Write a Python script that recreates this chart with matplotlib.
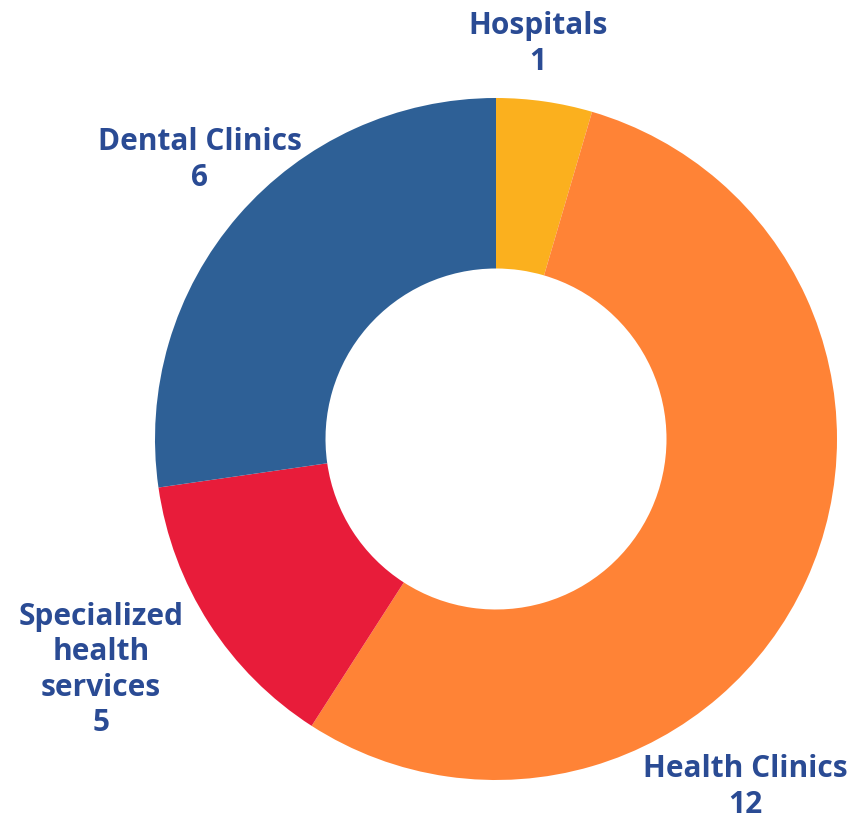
import matplotlib
matplotlib.use("Agg")
import matplotlib.pyplot as plt

# slice sizes as drawn, and the numbers printed in the labels
categories = ['Hospitals', 'Health Clinics', 'Specialized\nhealth\nservices', 'Dental Clinics']
slice_values = [1, 12, 3, 6]
label_values = [1, 12, 5, 6]
colors = ['#FBB01E', '#FF8336', '#E81C3A', '#2E6096']

W, H = 867, 819
fig = plt.figure(figsize=(W / 100, H / 100), dpi=100)
ax = fig.add_axes([0, 0, 1, 1])

cx, cy, r = 496, H - 439, 341
ax.pie(slice_values, colors=colors, startangle=90, counterclock=False,
       center=(cx, cy), radius=r, frame=True,
       wedgeprops=dict(width=r * 0.5, linewidth=0))
ax.set_xlim(0, W)
ax.set_ylim(0, H)
ax.set_aspect('equal')
ax.axis('off')

# label anchor points in pixels (x, y from top)
label_pos = [(538, 44), (745, 787), (101, 670), (200, 160)]
for name, val, (px, py) in zip(categories, label_values, label_pos):
    ax.text(px, H - py, f'{name}\n{val}', ha='center', va='center',
            fontsize=21.5, fontweight='bold', family='Open Sans',
            color='#2A4B94', linespacing=1.24)

fig.savefig('out.png', dpi=100)
